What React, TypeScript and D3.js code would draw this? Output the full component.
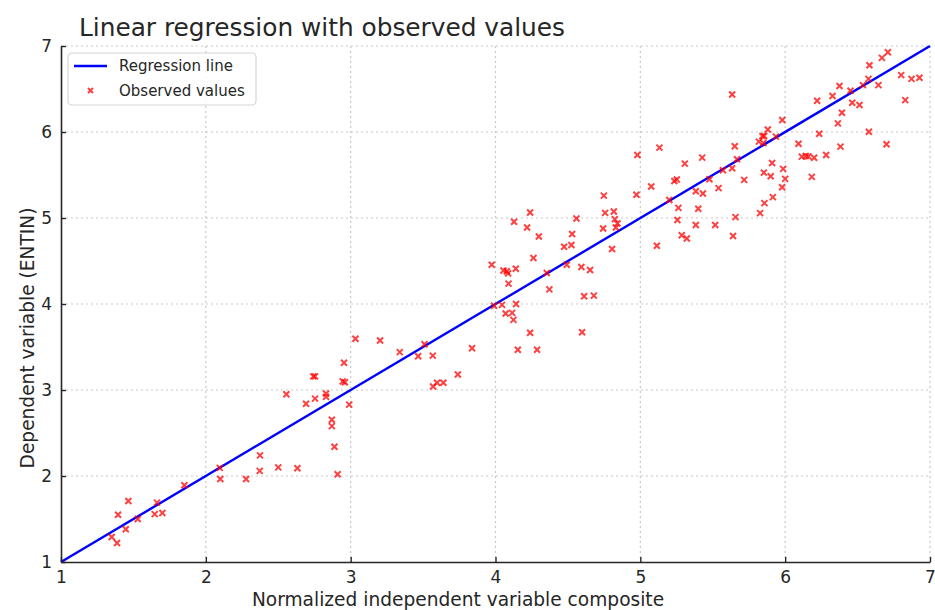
import { useEffect, useRef } from 'react';
import * as d3 from 'd3';

const obsX = [
  1.35, 1.387, 1.394, 1.465, 1.447, 1.53, 1.647, 1.663, 1.70, 1.852,
  2.096, 2.10, 2.278, 2.374, 2.372, 2.50, 2.632, 2.556, 2.692, 2.754,
  2.83, 2.83, 2.87, 2.87, 2.888, 2.91, 2.742, 2.754, 2.954, 2.945,
  2.96, 2.99, 3.033, 3.203, 3.339, 3.466, 3.51, 3.567, 3.838, 3.74,
  3.569, 3.597, 3.64, 3.99, 4.045, 4.07, 3.974, 4.115, 4.124, 4.142,
  4.055, 4.078, 4.087, 4.14, 4.09, 4.239, 4.154, 4.287, 4.128, 4.239,
  4.218, 4.299, 4.262, 4.354, 4.372, 4.492, 4.474, 4.524, 4.529, 4.559,
  4.593, 4.653, 4.612, 4.679, 4.598, 4.748, 4.757, 4.743, 4.805, 4.817,
  4.824, 4.842, 4.831, 4.973, 4.98, 5.132, 5.075, 5.114, 5.20, 5.235,
  5.252, 5.263, 5.256, 5.286, 5.321, 5.307, 5.383, 5.40, 5.383, 5.427,
  5.432, 5.477, 5.54, 5.517, 5.57, 5.634, 5.634, 5.652, 5.668, 5.64,
  5.657, 5.717, 5.818, 5.843, 5.855, 5.85, 5.88, 5.936, 5.98, 5.827,
  5.853, 5.90, 5.91, 5.857, 5.915, 5.986, 6.0, 5.979, 6.092, 6.115,
  6.142, 6.16, 6.20, 6.184, 6.235, 6.221, 6.283, 6.327, 6.375, 6.364,
  6.392, 6.382, 6.451, 6.463, 6.513, 6.537, 6.575, 6.582, 6.578, 6.644,
  6.668, 6.709, 6.70, 6.801, 6.829, 6.872, 6.927,
];
const obsY = [
  1.29, 1.22, 1.55, 1.71, 1.38, 1.50, 1.557, 1.69, 1.57, 1.893,
  2.094, 1.966, 1.966, 2.24, 2.06, 2.10, 2.09, 2.95, 2.84, 2.90,
  2.96, 2.92, 2.655, 2.58, 2.34, 2.02, 3.158, 3.158, 3.317, 3.10,
  3.09, 2.83, 3.595, 3.575, 3.44, 3.393, 3.532, 3.40, 3.486, 3.18,
  3.04, 3.085, 3.085, 3.98, 3.99, 3.89, 4.457, 3.897, 3.815, 4.00,
  4.39, 4.38, 4.356, 4.41, 4.237, 3.665, 3.468, 3.468, 4.956, 5.064,
  4.89, 4.785, 4.535, 4.361, 4.17, 4.457, 4.666, 4.686, 4.813, 4.994,
  4.43, 4.395, 4.09, 4.097, 3.672, 5.26, 5.06, 4.878, 4.64, 5.075,
  4.987, 4.936, 4.89, 5.27, 5.733, 5.818, 5.366, 4.678, 5.21, 5.43,
  5.447, 5.118, 4.976, 4.80, 4.762, 5.632, 5.312, 5.107, 4.918, 5.702,
  5.284, 5.45, 5.347, 4.918, 5.555, 6.437, 5.578, 5.834, 5.683, 4.79,
  5.01, 5.443, 5.888, 5.953, 5.953, 5.872, 6.03, 5.946, 6.139, 5.057,
  5.528, 5.486, 5.64, 5.173, 5.243, 5.571, 5.455, 5.358, 5.864, 5.714,
  5.72, 5.717, 5.70, 5.478, 5.98, 6.363, 5.733, 6.418, 6.534, 6.10,
  6.224, 5.83, 6.479, 6.34, 6.313, 6.545, 6.618, 6.777, 6.003, 6.545,
  6.862, 6.928, 5.857, 6.661, 6.371, 6.618, 6.63,
];

// regression line end points
const lineX = [1, 7];
const lineY = [1, 7];

const xTicks = [1, 2, 3, 4, 5, 6, 7];
const yTicks = [1, 2, 3, 4, 5, 6, 7];

const legendItems = ['Regression line', 'Observed values'];

export default function App() {
  const svgRef = useRef<SVGSVGElement>(null);

  useEffect(() => {
    const svg = d3.select(svgRef.current);
    svg.selectAll('*').remove();

    const width = 935;
    const height = 610;
    const margin = { top: 46, right: 5, bottom: 48, left: 61 };
    const innerWidth = width - margin.left - margin.right;
    const innerHeight = height - margin.top - margin.bottom;
    const font = 'DejaVu Sans, sans-serif';
    const ink = '#262626';

    const x = d3.scaleLinear().domain([1, 7]).range([0, innerWidth]);
    const y = d3.scaleLinear().domain([1, 7]).range([innerHeight, 0]);

    svg.attr('width', width).attr('height', height);

    svg.append('rect')
      .attr('width', width)
      .attr('height', height)
      .attr('fill', 'white');

    const g = svg.append('g')
      .attr('transform', `translate(${margin.left}, ${margin.top})`);

    // grid
    g.append('g')
      .selectAll('line')
      .data(xTicks.slice(1))
      .join('line')
      .attr('x1', d => x(d))
      .attr('x2', d => x(d))
      .attr('y1', 0)
      .attr('y2', innerHeight)
      .attr('stroke', '#c8c8c8')
      .attr('stroke-width', 1.2)
      .attr('stroke-dasharray', '2,3');

    g.append('g')
      .selectAll('line')
      .data(yTicks.slice(1))
      .join('line')
      .attr('x1', 0)
      .attr('x2', innerWidth)
      .attr('y1', d => y(d))
      .attr('y2', d => y(d))
      .attr('stroke', '#c8c8c8')
      .attr('stroke-width', 1.2)
      .attr('stroke-dasharray', '2,3');

    // regression line
    const line = d3.line<number>()
      .x(d => x(lineX[d]))
      .y(d => y(lineY[d]));
    g.append('path')
      .datum([0, 1])
      .attr('d', line)
      .attr('fill', 'none')
      .attr('stroke', '#0000ff')
      .attr('stroke-width', 2.4);

    // observed values
    const s = 3;
    const cross = `M${-s},${-s}L${s},${s}M${-s},${s}L${s},${-s}`;
    g.append('g')
      .selectAll('path')
      .data(obsX.map((v, i) => [v, obsY[i]]))
      .join('path')
      .attr('transform', d => `translate(${x(d[0])},${y(d[1])})`)
      .attr('d', cross)
      .attr('fill', 'none')
      .attr('stroke', '#ff0000')
      .attr('stroke-opacity', 0.75)
      .attr('stroke-width', 2);

    // axes, ticks inward
    const xAxis = g.append('g')
      .attr('transform', `translate(0, ${innerHeight})`)
      .call(d3.axisBottom(x).tickValues(xTicks).tickFormat(d3.format('d')).tickSizeInner(-5).tickSizeOuter(0).tickPadding(9));
    const yAxis = g.append('g')
      .call(d3.axisLeft(y).tickValues(yTicks).tickFormat(d3.format('d')).tickSizeInner(-5).tickSizeOuter(0).tickPadding(9));

    [xAxis, yAxis].forEach(a => {
      a.select('.domain').attr('stroke', ink).attr('stroke-width', 1.6);
      a.selectAll('.tick line').attr('stroke', ink).attr('stroke-width', 1.4);
      a.selectAll('.tick text')
        .attr('fill', ink)
        .style('font-family', font)
        .style('font-size', '17px');
    });

    // title and labels
    svg.append('text')
      .attr('x', 79)
      .attr('y', 36)
      .attr('fill', ink)
      .style('font-family', font)
      .style('font-size', '24.8px')
      .text('Linear regression with observed values');

    svg.append('text')
      .attr('x', 458)
      .attr('y', 606)
      .attr('text-anchor', 'middle')
      .attr('fill', ink)
      .style('font-family', font)
      .style('font-size', '18.6px')
      .text('Normalized independent variable composite');

    svg.append('text')
      .attr('transform', 'translate(34, 338) rotate(-90)')
      .attr('text-anchor', 'middle')
      .attr('fill', ink)
      .style('font-family', font)
      .style('font-size', '18.6px')
      .text('Dependent variable (ENTIN)');

    // legend
    const legend = svg.append('g')
      .attr('transform', 'translate(68, 53)');
    legend.append('rect')
      .attr('width', 188)
      .attr('height', 52)
      .attr('rx', 4)
      .attr('fill', 'white')
      .attr('fill-opacity', 0.85)
      .attr('stroke', '#d6d6d6')
      .attr('stroke-width', 1.2);

    legendItems.forEach((item, i) => {
      const row = legend.append('g')
        .attr('transform', `translate(0, ${13 + i * 24.5})`);
      if (i === 0) {
        row.append('line')
          .attr('x1', 6)
          .attr('x2', 39)
          .attr('stroke', '#0000ff')
          .attr('stroke-width', 2.4);
      } else {
        row.append('path')
          .attr('transform', 'translate(22.5, 0)')
          .attr('d', `M-2.5,-2.5L2.5,2.5M-2.5,2.5L2.5,-2.5`)
          .attr('fill', 'none')
          .attr('stroke', '#ff0000')
          .attr('stroke-opacity', 0.75)
          .attr('stroke-width', 2);
      }
      row.append('text')
        .attr('x', 51)
        .attr('y', 0)
        .attr('dy', '0.35em')
        .attr('fill', ink)
        .style('font-family', font)
        .style('font-size', '15px')
        .text(item);
    });
  }, []);

  return (
    <svg
      ref={svgRef}
      style={{ position: 'absolute', left: 0, top: 0, display: 'block' }}
    ></svg>
  );
}
